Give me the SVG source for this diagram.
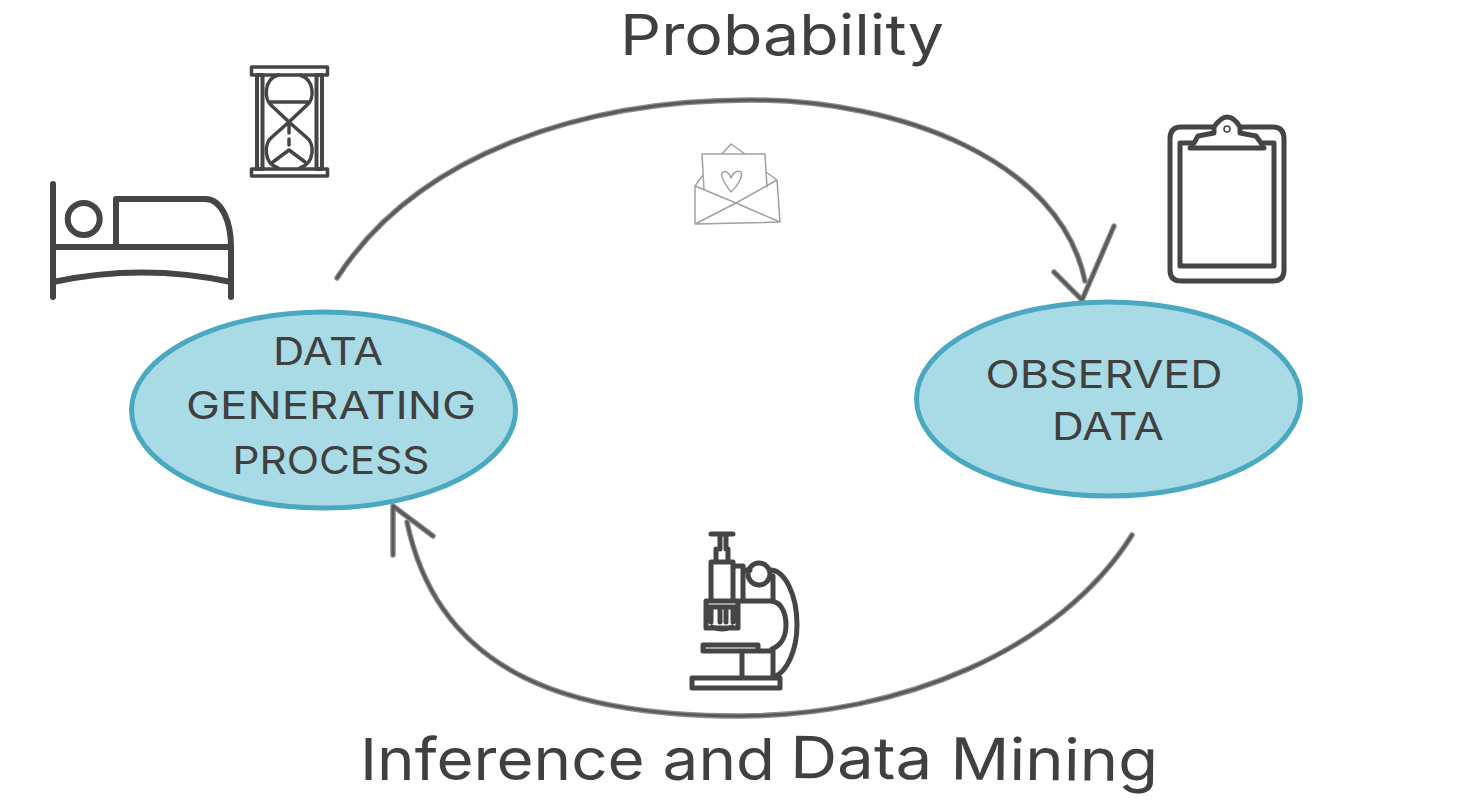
<svg xmlns="http://www.w3.org/2000/svg" width="1470" height="804" viewBox="0 0 1470 804">
<style>
.t{font-family:"Inter","Open Sans","Liberation Sans",sans-serif;fill:#404040;font-weight:400}
.e{fill:#a8dbe5;stroke:#4aa8c0;stroke-width:5}
.i{fill:none;stroke:#454545;stroke-linecap:round;stroke-linejoin:round}
.a{fill:none;stroke:#8c8c8c;stroke-width:5.500;stroke-linecap:round;stroke-linejoin:round}
.c{fill:none;stroke:#5a5a5a;stroke-width:3;stroke-linecap:round;stroke-linejoin:round}
.n{fill:none;stroke:#a0a0a0;stroke-width:1.500;stroke-linejoin:round;stroke-linecap:round}
</style>
<rect width="1470" height="804" fill="#fff"/>
<g id="connectors">
<path class="a" d="M337 278C420 150 590 100 750 100C900 100 1060 160 1085 281"/>
<path class="c" d="M337 278C420 150 590 100 750 100C900 100 1060 160 1085 281"/>
<path class="a" d="M1054 272L1082 300L1114 226"/>
<path class="c" d="M1054 272L1082 300L1114 226"/>
<path class="a" d="M1132 535C1060 650 900 716 740 716C580 716 440 680 407 522"/>
<path class="c" d="M1132 535C1060 650 900 716 740 716C580 716 440 680 407 522"/>
<path class="a" d="M393 555L393 506L433 536"/>
<path class="c" d="M393 555L393 506L433 536"/>
</g>
<g id="node-dgp">
<ellipse class="e" cx="323.500" cy="410" rx="192" ry="98"/>
<text class="t" x="328" y="365" font-size="38" text-anchor="middle" textLength="110" lengthAdjust="spacingAndGlyphs">DATA</text>
<text class="t" x="331" y="419" font-size="38" text-anchor="middle" textLength="290" lengthAdjust="spacingAndGlyphs">GENERATING</text>
<text class="t" x="331" y="474" font-size="38" text-anchor="middle" textLength="197" lengthAdjust="spacingAndGlyphs">PROCESS</text>
</g>
<g id="node-observed">
<ellipse class="e" cx="1108.500" cy="399" rx="192" ry="97"/>
<text class="t" x="1104" y="388" font-size="38" text-anchor="middle" textLength="237" lengthAdjust="spacingAndGlyphs">OBSERVED</text>
<text class="t" x="1108" y="440" font-size="38" text-anchor="middle" textLength="112" lengthAdjust="spacingAndGlyphs">DATA</text>
</g>
<g id="label-probability"><text class="t" x="620" y="55" font-size="56" textLength="324" lengthAdjust="spacingAndGlyphs">Probability</text></g>
<g id="label-inference">
<text class="t" x="360" y="780" font-size="58" textLength="415" lengthAdjust="spacingAndGlyphs">Inference and</text>
<text class="t" x="790" y="778" font-size="58" textLength="368" lengthAdjust="spacingAndGlyphs" transform="rotate(0.500 790 778)">Data Mining</text>
</g>
<g id="icon-bed">
<path class="i" stroke-width="6" d="M53 184V297M231 297V247M53 247H231M116 247V199H205C222 199 231 222 231 247M53 282Q142 263 231 282"/>
<circle class="i" stroke-width="6" cx="83.700" cy="219" r="16"/>
</g>
<g id="icon-hourglass">
<rect class="i" stroke-width="3.500" x="251.500" y="67" width="76" height="8"/>
<rect class="i" stroke-width="3.500" x="251.500" y="169" width="76" height="7"/>
<rect class="i" stroke-width="4" x="257" y="75" width="5.500" height="94"/>
<rect class="i" stroke-width="4" x="316.500" y="75" width="5.500" height="94"/>
<path class="i" stroke-width="3.500" d="M278 75C263 80 264 100 272 106L289 122L306 106C315 100 315 80 300 75M270 102H309M278 168C263 163 264 143 272 137L289 122L306 137C315 143 315 163 300 168M273 162L289 150L305 162M289 125V133M289 139V145"/>
</g>
<g id="icon-envelope">
<path class="n" d="M695 186L695 224L780 222L777 180L736 203L695 224M695 186L736 203L780 222M702 154L765 154L767 187M702 154L704 190M722 154L731 144L745 154M695 186L703 175M766 172L777 180"/>
<path class="n" d="M731 192C725 184 720 176 722 173C725 170 729 172 731 178C733 172 738 170 741 172C743 176 738 186 731 192Z"/>
</g>
<g id="icon-clipboard">
<path class="i" stroke-width="5" d="M1212 127H1181Q1170 127 1170 139V270Q1170 281 1181 281H1273Q1284 281 1284 270V139Q1284 127 1273 127H1242"/>
<path class="i" stroke-width="5" d="M1193 143H1180V266H1274V143H1261M1190 148H1264M1194 143L1198 136L1214 133V127C1219 120 1223 117 1227 117C1231 117 1236 120 1240 127V133L1256 136L1261 143"/>
<circle class="i" stroke-width="1.600" cx="1227" cy="129" r="3"/>
</g>
<g id="icon-microscope">
<path class="i" stroke-width="5" d="M711 534H733M720 535V549M726 535V549M716 549V562M728 549V562M711 562H733V601H711ZM735 566H743V601H735M706 601H738V628H706ZM711 607V622M733 607V622M720 607V622M726 607V622M706 607H738M712 627Q722 631 732 627M743 570H750M743 601H771C783 602 786 616 786 625C786 635 782 645 772 649M773 601V576M770 570C785 570 797 595 797 625C797 650 787 672 774 677"/>
<circle class="i" stroke-width="5" cx="759" cy="574" r="11"/>
<path class="i" stroke-width="5" d="M703 645H758V651H703ZM758 651H773M742 651V676M773 651V676M692 678H780V688H692Z"/>
</g>
</svg>
